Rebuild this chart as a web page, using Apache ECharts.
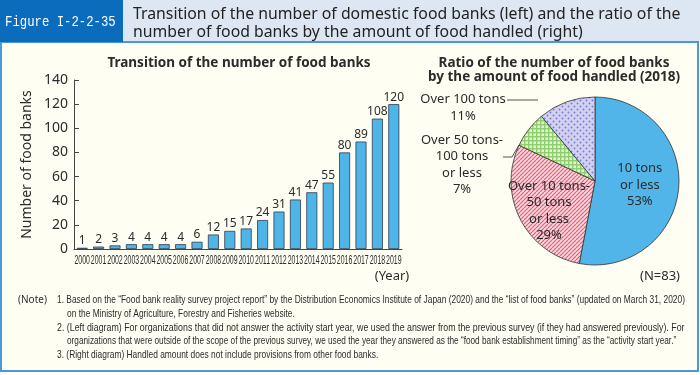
<!DOCTYPE html>
<html><head><meta charset="utf-8">
<script src="https://cdn.jsdelivr.net/npm/echarts@6/dist/echarts.min.js"></script>
<style>html,body{margin:0;padding:0;background:#fff;}#c{width:700px;height:375px;}</style>
</head><body><div id="c"></div>
<script>
// ---- data ----
const years = ['2000','2001','2002','2003','2004','2005','2006','2007','2008','2009','2010','2011','2012','2013','2014','2015','2016','2017','2018','2019'];
const foodBanks = [1,2,3,4,4,4,4,6,12,15,17,24,31,41,47,55,80,89,108,120];
const yTicks = [0,20,40,60,80,100,120,140];
const pieCategories = ['10 tons\nor less','Over 10 tons-\n50 tons\nor less','Over 50 tons-\n100 tons\nor less','Over 100 tons'];
const pieShares = [53,29,7,11];
const notes = [
  '1. Based on the \u201cFood bank reality survey project report\u201d by the Distribution Economics Institute of Japan (2020) and the \u201clist of food banks\u201d (updated on March 31, 2020)',
  'on the Ministry of Agriculture, Forestry and Fisheries website.',
  '2. (Left diagram) For organizations that did not answer the activity start year, we used the answer from the previous survey (if they had answered previously). For',
  'organizations that were outside of the scope of the previous survey, we used the year they answered as the \u201cfood bank establishment timing\u201d as the \u201cactivity start year.\u201d',
  '3. (Right diagram) Handled amount does not include provisions from other food banks.'
];
const noteIndent = [0,1,0,1,0];
const noteScale = [0.8,0.8,0.84,0.785,0.8];

function pattern(kind){
  const c=document.createElement('canvas');
  const ctx=c.getContext('2d');
  if(kind==='stripe'){
    c.width=4;c.height=4;
    ctx.fillStyle='#fbd6dd';ctx.fillRect(0,0,4,4);
    ctx.strokeStyle='#e35a76';ctx.lineWidth=1.1;
    ctx.beginPath();
    for(let k=-4;k<=8;k+=4){ctx.moveTo(k,4);ctx.lineTo(k+4,0);}
    ctx.stroke();
  } else if(kind==='check'){
    c.width=4;c.height=4;
    ctx.fillStyle='#e2f4d2';ctx.fillRect(0,0,4,4);
    ctx.fillStyle='#8fce6e';
    ctx.fillRect(0,0,4,1.4);ctx.fillRect(0,0,1.4,4);
  } else {
    c.width=6;c.height=6;
    ctx.fillStyle='#d4d0f2';ctx.fillRect(0,0,6,6);
    ctx.fillStyle='#6f7fd4';
    ctx.beginPath();ctx.arc(1.5,1.5,0.95,0,Math.PI*2);ctx.arc(4.5,4.5,0.95,0,Math.PI*2);ctx.fill();
  }
  return {image:c,repeat:'repeat'};
}

const chart = echarts.init(document.getElementById('c'), null, {renderer:'canvas'});
const txt = '#2b2b2b';
const F = '"Noto Sans", "Open Sans", sans-serif';
const LS = '"Liberation Sans", Arial, sans-serif';

const noteY = [300,314,328,341,355];
const graphics = [
  {type:'rect', shape:{x:0,y:0,width:700,height:42}, style:{fill:'#dde7f4'}, z:0},
  {type:'rect', shape:{x:0,y:0,width:123,height:42}, style:{fill:'#0b6cbd'}, z:1},
  {type:'text', x:5, y:22, scaleX:0.82, style:{text:'Figure I-2-2-35', fill:'#fff', font:'15px "Liberation Mono", monospace', verticalAlign:'middle'}, z:2},
  {type:'text', x:133, y:23, style:{text:'Transition of the number of domestic food banks (left) and the ratio of the\nnumber of food banks by the amount of food handled (right)', fill:'#222', font:'15.8px '+F, lineHeight:18, verticalAlign:'middle'}, z:2},
  {type:'rect', shape:{x:1,y:42,width:697,height:329}, style:{fill:'#fffef2', stroke:'#4a98d6', lineWidth:2}, z:0},
  {type:'text', x:239, y:63, style:{text:'Transition of the number of food banks', fill:txt, font:'bold 13.5px '+F, align:'center', verticalAlign:'middle'}, z:2},
  {type:'text', x:554, y:70, style:{text:'Ratio of the number of food banks\nby the amount of food handled (2018)', fill:txt, font:'bold 13.5px '+F, align:'center', verticalAlign:'middle', lineHeight:14}, z:2},
  {type:'text', x:392, y:276, style:{text:'(Year)', fill:txt, font:'13px '+F, align:'center', verticalAlign:'middle'}, z:2},
  {type:'text', x:660, y:276, style:{text:'(N=83)', fill:txt, font:'13px '+F, align:'center', verticalAlign:'middle'}, z:2},
  {type:'text', x:18, y:noteY[0], style:{text:'(Note)', fill:txt, font:'10px '+F, verticalAlign:'middle'}, z:2}
];
notes.forEach((n,i)=>{
  graphics.push({type:'text', x:noteIndent[i]?67:57, y:noteY[i], scaleX:noteScale[i], style:{text:n, fill:txt, font:'10.5px '+LS, verticalAlign:'middle'}, z:2});
});

const pieColors = ['#52b5e9', pattern('stripe'), pattern('check'), pattern('dots')];
const labelPos = [null, {x:549,y:211}, {x:462,y:165}, {x:463,y:108}];
const linePts = [null, null, [[503,157],[512,157],[519,145]], [[507,100],[538,100]]];

chart.setOption({
  animation:false,
  graphic:graphics,
  grid:{left:74, top:80, width:328, height:169, show:true, borderColor:'#444', borderWidth:1, backgroundColor:'transparent'},
  xAxis:{type:'category', data:years,
    axisLine:{lineStyle:{color:'#444', width:1}},
    axisTick:{inside:true, length:4, lineStyle:{color:'#444'}},
    axisLabel:{show:false}},
  yAxis:{type:'value', min:yTicks[0], max:yTicks[yTicks.length-1], interval:20,
    name:'Number of food banks', nameLocation:'middle', nameGap:40, nameRotate:90,
    nameTextStyle:{fontFamily:F, fontSize:14, color:txt},
    axisLine:{show:true, lineStyle:{color:'#444'}},
    axisTick:{show:true, inside:true, length:5, lineStyle:{color:'#444'}},
    splitLine:{show:false},
    axisLabel:{fontFamily:F, fontSize:14, color:txt, margin:6}},
  series:[
    {type:'bar', data:foodBanks, barWidth:11,
      itemStyle:{color:'#4fb4e8', borderColor:'#2c3e50', borderWidth:0.8},
      label:{show:true, position:'top', distance:1, fontFamily:F, fontSize:12, color:txt}},
    {type:'custom', data:years.map((y,i)=>[i,0]), clip:false, silent:true,
      renderItem:function(params, api){
        const p = api.coord([api.value(0), api.value(1)]);
        return {type:'text', x:p[0], y:p[1]+12, scaleX:0.58,
          style:{text:years[params.dataIndex], fill:txt, font:'12px '+LS, align:'center', verticalAlign:'middle'}};
      }},
    {type:'pie', center:[595,181], radius:84, startAngle:90, clockwise:true,
      data:pieCategories.map((n,i)=>({name:n, value:pieShares[i],
        itemStyle:{color:pieColors[i]},
        label:{position: i<2?'inside':'outside'},
        labelLine:{show:i>=2}})),
      itemStyle:{borderColor:'#333', borderWidth:0.8},
      label:{show:true, formatter:p=>p.name+'\n'+p.value+'%', fontFamily:F, fontSize:13, lineHeight:16.5, color:txt, align:'center'},
      labelLine:{lineStyle:{color:'#555', width:1}},
      labelLayout:function(p){
        const i=p.dataIndex;
        if(!labelPos[i]) return {};
        const r={x:labelPos[i].x, y:labelPos[i].y, align:'center', verticalAlign:'middle'};
        if(linePts[i]) r.labelLinePoints=linePts[i];
        return r;
      }}
  ]
});
</script></body></html>
